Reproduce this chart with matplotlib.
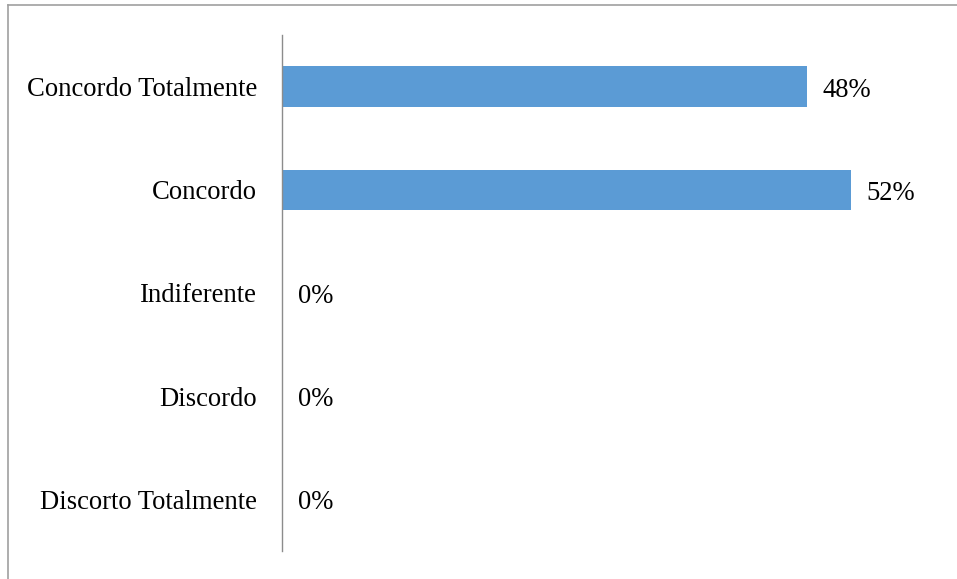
import matplotlib.pyplot as plt
from matplotlib.lines import Line2D

# Survey answers, top to bottom
categorias = ["Concordo Totalmente", "Concordo", "Indiferente", "Discordo", "Discorto Totalmente"]
percentuais = [0.48, 0.52, 0.0, 0.0, 0.0]
rotulos = ["48%", "52%", "0%", "0%", "0%"]

plt.rcParams["font.family"] = ["Liberation Serif", "DejaVu Serif"]

W, H = 957, 579
fig = plt.figure(figsize=(W / 100, H / 100), dpi=100)

# axes placed in pixel terms: left edge on the value axis line
left, right, top, bottom = 282, 938, 35, 551
ax = fig.add_axes([left / W, 1 - bottom / H, (right - left) / W, (bottom - top) / H])

pos = list(range(len(categorias)))
ax.barh(pos, percentuais, height=0.39, color="#5B9BD5")
ax.set_ylim(len(categorias) - 0.5, -0.5)
ax.set_xlim(0, 0.6)

ax.set_yticks(pos)
ax.set_yticklabels(categorias, fontsize=19.2)
ax.tick_params(axis="y", length=0, pad=18)
ax.set_xticks([])

for s in ["top", "right", "bottom"]:
    ax.spines[s].set_visible(False)
ax.spines["left"].set_color("#8c8c8c")
ax.spines["left"].set_linewidth(1.0)

for i, (v, t) in enumerate(zip(percentuais, rotulos)):
    ax.annotate(t, (v, i), xytext=(11.5, -2.5), textcoords="offset points",
                va="center", ha="left", fontsize=19.2)

# chart area border (top and left edges)
fig.add_artist(Line2D([8 / W, 1], [1 - 5 / H, 1 - 5 / H], transform=fig.transFigure,
                      color="#a0a0a0", linewidth=1.2))
fig.add_artist(Line2D([8 / W, 8 / W], [0, 1 - 5 / H], transform=fig.transFigure,
                      color="#a0a0a0", linewidth=1.2))

fig.savefig("out.png", dpi=100)
